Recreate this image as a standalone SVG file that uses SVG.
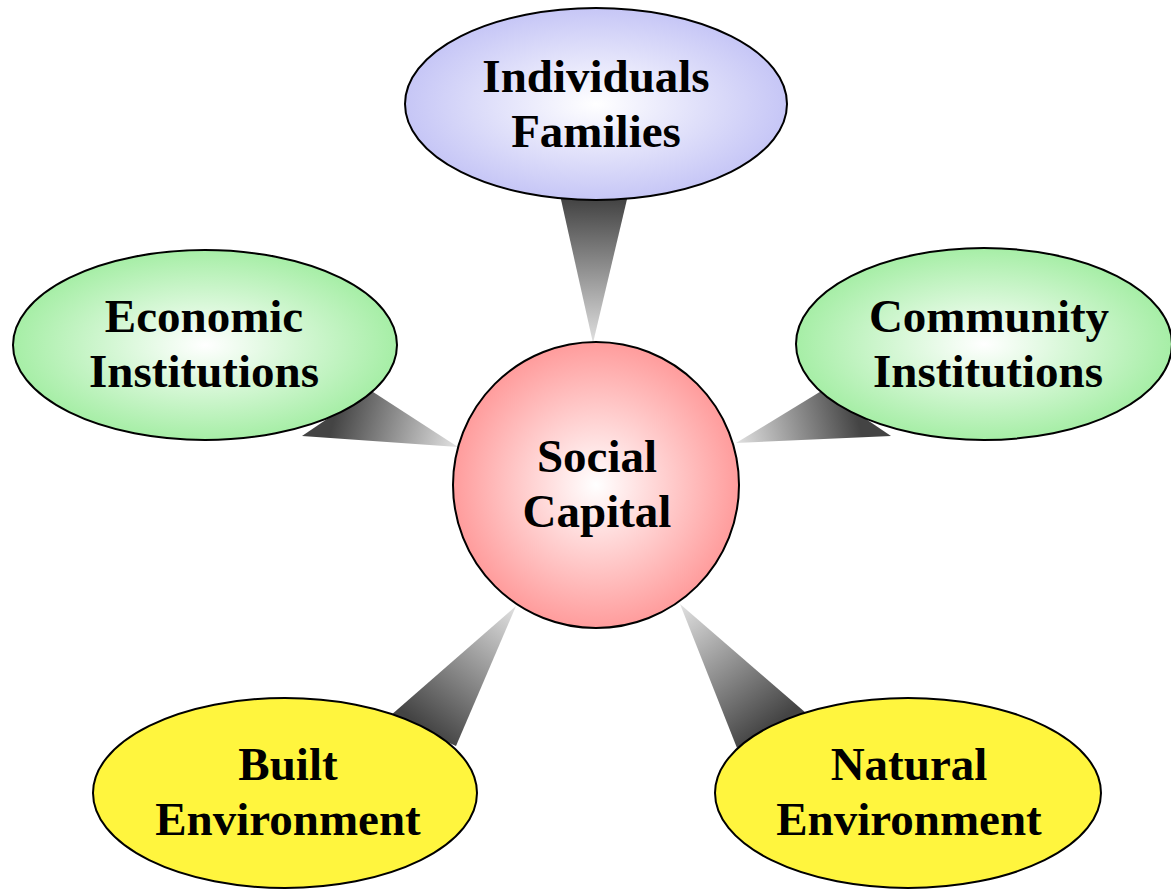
<svg xmlns="http://www.w3.org/2000/svg" width="1171" height="890" viewBox="0 0 1171 890">
<style>
.n{stroke:#000;stroke-width:2}
.t{font-family:"Liberation Serif","Times New Roman",serif;font-weight:bold;font-size:47px;fill:#000;text-anchor:middle}
</style>
<defs>
<radialGradient id="gBlue" cx="50%" cy="50%" r="50%"><stop offset="0" stop-color="#ffffff"/><stop offset="1" stop-color="#c6c6f6"/></radialGradient>
<radialGradient id="gGreen" cx="50%" cy="50%" r="50%"><stop offset="0" stop-color="#ffffff"/><stop offset="1" stop-color="#a6eea6"/></radialGradient>
<radialGradient id="gRed" cx="50%" cy="50%" r="50%"><stop offset="0" stop-color="#ffffff"/><stop offset="1" stop-color="#ff9c9c"/></radialGradient>
<linearGradient id="c1" gradientUnits="userSpaceOnUse" x1="594" y1="200" x2="593" y2="343"><stop offset="0" stop-color="#444"/><stop offset="1" stop-color="#e0e0e0"/></linearGradient>
<linearGradient id="c2" gradientUnits="userSpaceOnUse" x1="336" y1="412" x2="456" y2="446"><stop offset="0" stop-color="#444"/><stop offset="1" stop-color="#e0e0e0"/></linearGradient>
<linearGradient id="c3" gradientUnits="userSpaceOnUse" x1="856" y1="412" x2="737" y2="442"><stop offset="0" stop-color="#444"/><stop offset="1" stop-color="#e0e0e0"/></linearGradient>
<linearGradient id="c4" gradientUnits="userSpaceOnUse" x1="423" y1="727" x2="515" y2="607"><stop offset="0" stop-color="#444"/><stop offset="1" stop-color="#e0e0e0"/></linearGradient>
<linearGradient id="c5" gradientUnits="userSpaceOnUse" x1="771" y1="727" x2="680" y2="605"><stop offset="0" stop-color="#444"/><stop offset="1" stop-color="#e0e0e0"/></linearGradient>
</defs>
<rect width="1171" height="890" fill="#fff"/>
<g id="connectors">
<polygon points="560,195 628,195 593,343" fill="url(#c1)"/>
<polygon points="370,390 302,436 458,447" fill="url(#c2)"/>
<polygon points="823,390 891,436 736,443" fill="url(#c3)"/>
<polygon points="390,716 456,746 516,606" fill="url(#c4)"/>
<polygon points="737,748 806,713 680,604" fill="url(#c5)"/>
</g>
<g id="individuals">
<ellipse class="n" cx="596" cy="104" rx="191" ry="96" fill="url(#gBlue)"/>
<text class="t" x="596" y="92">Individuals</text>
<text class="t" x="596" y="147">Families</text>
</g>
<g id="economic">
<ellipse class="n" cx="205" cy="345" rx="192" ry="95" fill="url(#gGreen)"/>
<text class="t" x="204" y="332">Economic</text>
<text class="t" x="204" y="387">Institutions</text>
</g>
<g id="community">
<ellipse class="n" cx="984" cy="344" rx="188" ry="96" fill="url(#gGreen)"/>
<text class="t" x="989" y="332">Community</text>
<text class="t" x="988" y="387">Institutions</text>
</g>
<g id="social">
<circle class="n" cx="596" cy="485" r="143" fill="url(#gRed)"/>
<text class="t" x="597" y="472">Social</text>
<text class="t" x="597" y="527">Capital</text>
</g>
<g id="built">
<ellipse class="n" cx="285" cy="793" rx="192" ry="95" fill="#fff53e"/>
<text class="t" x="288" y="780">Built</text>
<text class="t" x="288" y="835">Environment</text>
</g>
<g id="natural">
<ellipse class="n" cx="908" cy="793" rx="193" ry="95" fill="#fff53e"/>
<text class="t" x="909" y="780">Natural</text>
<text class="t" x="909" y="835">Environment</text>
</g>
</svg>
